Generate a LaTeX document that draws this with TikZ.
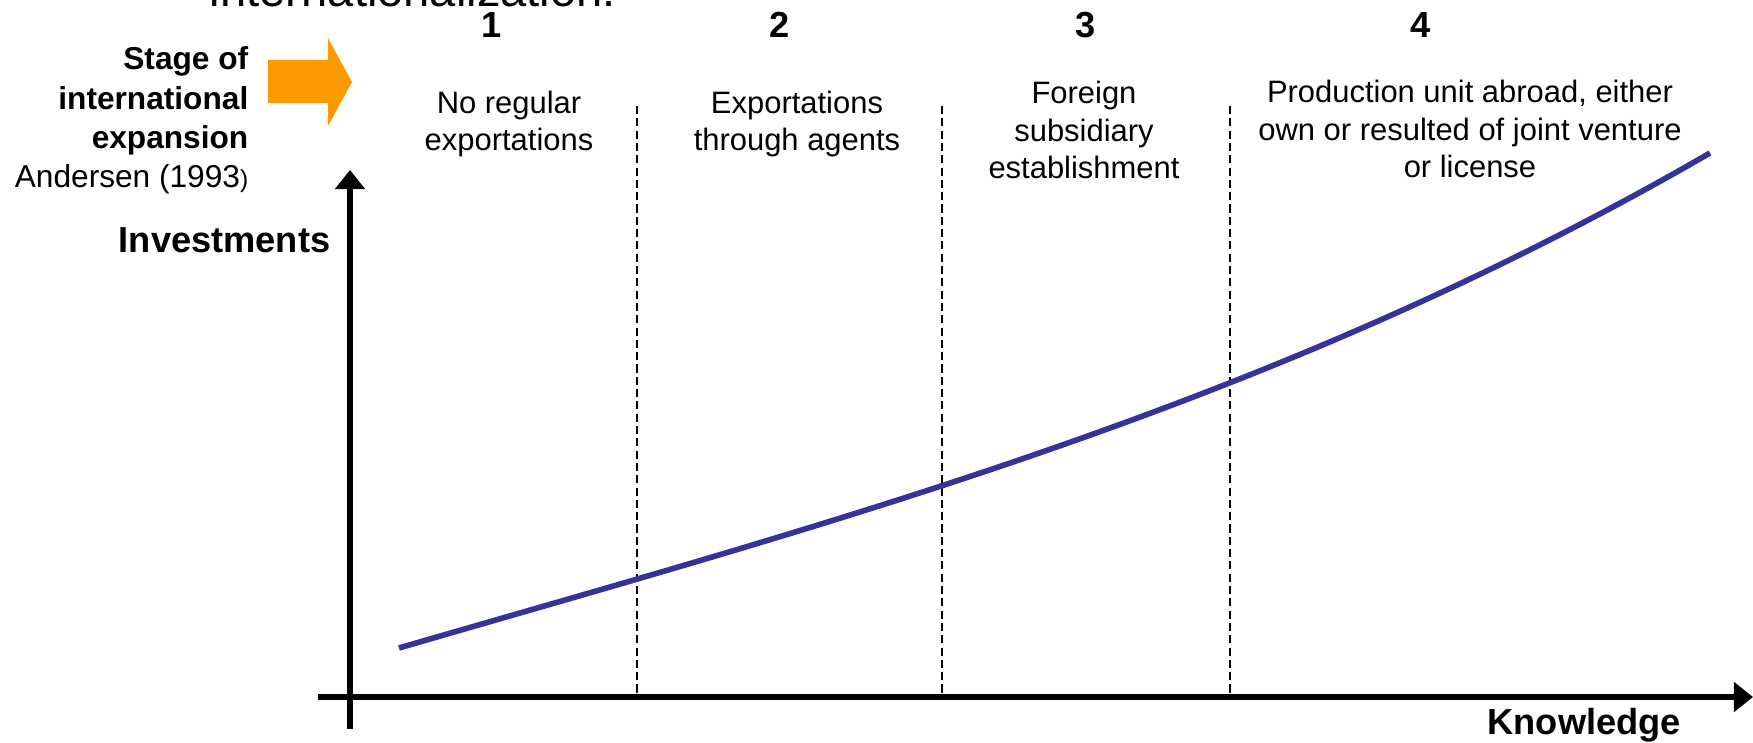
\documentclass[tikz,border=0pt]{standalone}
\usepackage{fontspec}
\setmainfont{Liberation Sans}
\definecolor{curveblue}{RGB}{51,51,153}
\definecolor{stageorange}{RGB}{255,153,0}
\usetikzlibrary{arrows.meta,positioning}

\begin{document}
\begin{tikzpicture}[x=0.01cm,y=-0.01cm]
  \tikzstyle{stagetext}=[inner sep=0,align=center,anchor=base,font=\fontsize{8.8}{10.8}\selectfont]
  \tikzstyle{stagenum}=[inner sep=0,anchor=base,font=\fontsize{10.3}{12}\selectfont\bfseries]
  \tikzstyle{axislabel}=[inner sep=0,font=\fontsize{10.3}{12}\selectfont\bfseries]
  \tikzstyle{axis}=[line width=1.6pt,-{Triangle[width=0.29cm,length=0.19cm]}]
  \tikzstyle{stagesep}=[line width=0.6pt,dash pattern=on 2.3pt off 1.2pt]

  \useasboundingbox (0,0) rectangle (1753,743);

  % heading line, cut off at the top edge
  \node[inner sep=0,anchor=base,font=\fontsize{13.4}{16}\selectfont] (title) at (413,7) {internationalization.};

  % stage numbers and descriptions (base = last line)
  \foreach \n/\x in {1/492,2/780,3/1086,4/1421}
    \node[stagenum] (num\n) at (\x,38) {\n};
  \node[stagetext] (stage1) at (509,151) {No regular\\exportations};
  \node[stagetext] (stage2) at (797,151) {Exportations\\through agents};
  \node[stagetext] (stage3) at (1084,179) {Foreign\\subsidiary\\establishment};
  \node[stagetext] (stage4) at (1470,178) {Production unit abroad, either\\own or resulted of joint venture\\or license};

  \node[inner sep=0,align=right,anchor=base east,font=\fontsize{9}{11.2}\selectfont] (stagelabel) at (249,188)
    {\textbf{Stage of}\\\textbf{international}\\\textbf{expansion}\\Andersen (1993{\fontsize{7}{8}\selectfont)}};
  \fill[stageorange] (268,60) -- (328,60) -- (328,38) -- (352,82) -- (328,126) -- (328,103) -- (268,103) -- cycle;

  % stage borders
  \foreach \x in {637,942,1230}
    \draw[stagesep] (\x,106) -- (\x,697);

  % axes
  \draw[axis] (350,729) -- (350,170);
  \draw[axis] (318,697) -- (1753,697);
  \node[axislabel,anchor=base east] (ylabel) at (331,253) {Investments};
  \node[axislabel,anchor=base west] (xlabel) at (1487,735) {Knowledge};

  % investment curve
  \draw[curveblue,line width=1.6pt] (399,648) .. controls (836,521) and (1273,406) .. (1710,153);
\end{tikzpicture}
\end{document}
